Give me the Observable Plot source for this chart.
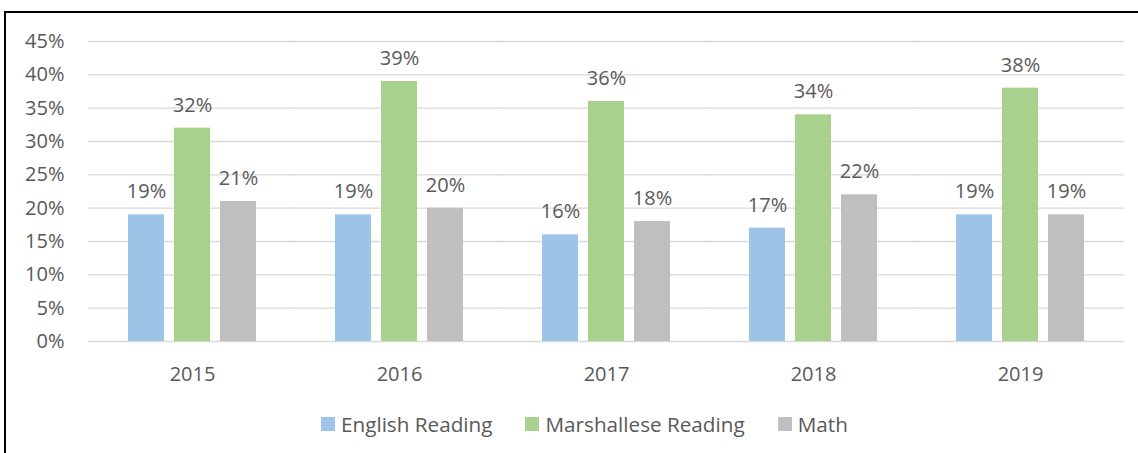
<!DOCTYPE html>
<html>
<head>
<meta charset="utf-8">
<script src="https://cdn.jsdelivr.net/npm/d3@7"></script>
<script src="https://cdn.jsdelivr.net/npm/@observablehq/plot@0.6"></script>
<style>
  html, body { margin: 0; padding: 0; background: #fff; overflow: hidden; }
  body { width: 1138px; height: 453px; position: relative; font-family: "Open Sans", sans-serif; }
  #lineLeft { position: absolute; left: 4px; top: 11px; width: 2px; height: 442px; background: #000; }
  #lineTop { position: absolute; left: 4px; top: 11px; width: 1134px; height: 2px; background: #000; }
  #chart { position: absolute; left: 0; top: 0; }
  #legend { position: absolute; left: 321px; top: 412px; display: flex; align-items: center;
            font-size: 20.7px; color: #595959; line-height: 24px; white-space: nowrap; }
  .item { display: flex; align-items: center; margin-right: 33px; }
  .sw { width: 14px; height: 14px; margin-right: 6px; }
</style>
</head>
<body>
<div id="lineLeft"></div>
<div id="lineTop"></div>
<div id="chart"></div>
<div id="legend"></div>
<script>
const years = ["2015", "2016", "2017", "2018", "2019"];
const series = ["English Reading", "Marshallese Reading", "Math"];
const english = [19, 19, 16, 17, 19];
const marshallese = [32, 39, 36, 34, 38];
const math = [21, 20, 18, 22, 19];
const yTicks = [0, 5, 10, 15, 20, 25, 30, 35, 40, 45];
const colors = ["#9DC3E6", "#A9D18E", "#BFBFBF"];

const values = [english, marshallese, math];
const data = years.flatMap((yr, i) => series.map((s, j) => ({year: yr, series: s, value: values[j][i]})));

const chart = Plot.plot({
  width: 1138,
  height: 396,
  marginTop: 41,
  marginBottom: 55,
  marginLeft: 87,
  marginRight: 14,
  style: {fontFamily: "Open Sans", fontSize: "20px", color: "#595959", background: "transparent"},
  fx: {domain: years, paddingInner: 0.383, paddingOuter: 0.1915, label: null, axis: "bottom", tickSize: 0, tickPadding: 25},
  x: {domain: series, paddingInner: 0.2174, paddingOuter: 0, axis: null},
  y: {domain: [0, 45], ticks: yTicks, tickFormat: d => d + "%", tickSize: 0, tickPadding: 64, label: null},
  color: {domain: series, range: colors},
  marks: [
    Plot.ruleY(yTicks, {stroke: "#d9d9d9", strokeWidth: 1.3, insetLeft: -40, insetRight: -40}),
    Plot.barY(data, {fx: "year", x: "series", y: "value", fill: "series"}),
    Plot.text(data, {fx: "year", x: "series", y: "value", text: d => d.value + "%", dy: -23, lineAnchor: "middle", fill: "#595959", fontSize: 20})
  ]
});
document.getElementById("chart").appendChild(chart);

const legend = document.getElementById("legend");
series.forEach((s, i) => {
  const item = document.createElement("div");
  item.className = "item";
  const sw = document.createElement("div");
  sw.className = "sw";
  sw.style.background = colors[i];
  const label = document.createElement("span");
  label.textContent = s;
  item.appendChild(sw);
  item.appendChild(label);
  legend.appendChild(item);
});
</script>
</body>
</html>
